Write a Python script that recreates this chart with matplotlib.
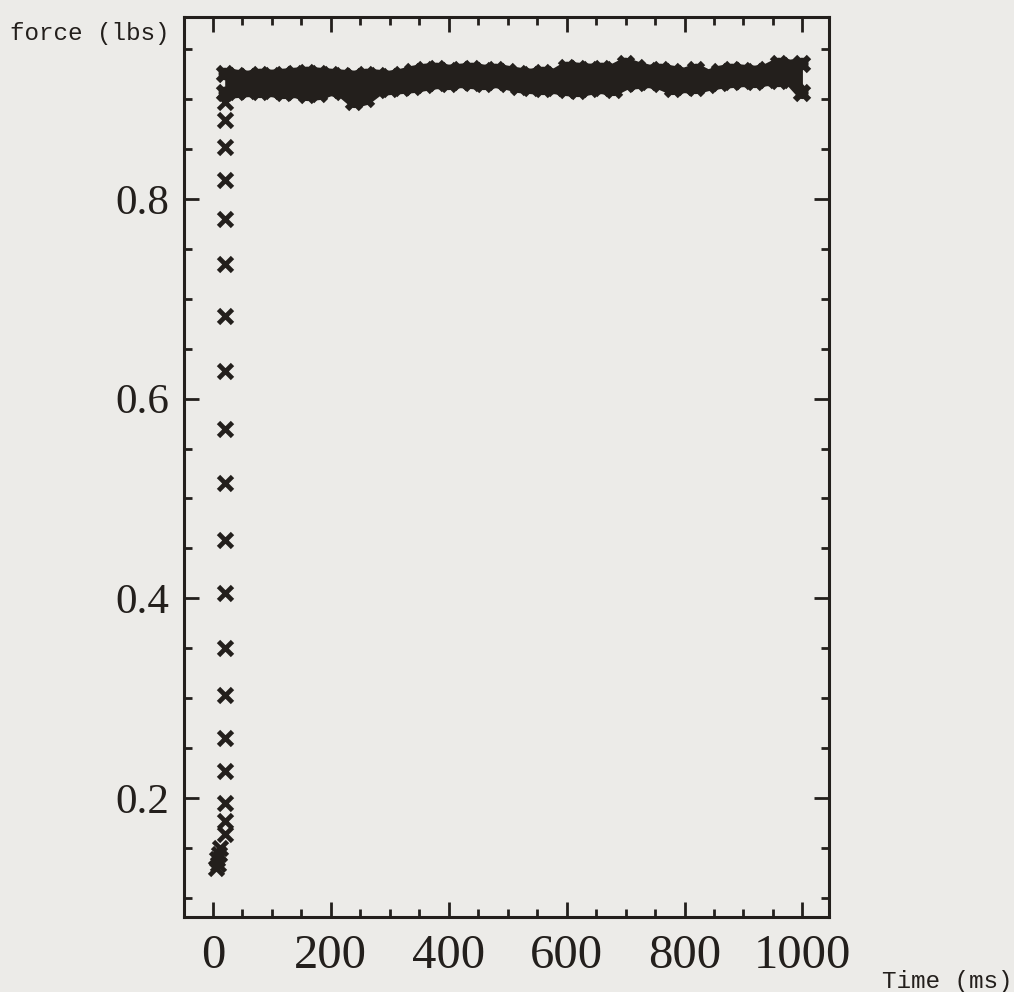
import matplotlib
matplotlib.use("Agg")
import matplotlib.pyplot as plt
from matplotlib.ticker import MultipleLocator, FormatStrFormatter

# initial ramp samples (ms, lbs)
ramp_t = [20] * 19
ramp_f = [0.897, 0.879, 0.852, 0.819, 0.780, 0.735, 0.683, 0.628, 0.570, 0.515,
          0.458, 0.405, 0.350, 0.303, 0.260, 0.227, 0.195, 0.177, 0.164]
start_t = [6, 9, 7, 10, 12]
start_f = [0.130, 0.134, 0.139, 0.144, 0.150]

# steady grasp: upper / lower scatter of the samples
band_t = list(range(20, 1001, 20))
band_hi = [0.925, 0.923, 0.922, 0.924, 0.923, 0.924, 0.925, 0.926, 0.925, 0.924,
           0.923, 0.922, 0.924, 0.923, 0.922, 0.924, 0.927, 0.929, 0.930, 0.928,
           0.929, 0.930, 0.928, 0.929, 0.927, 0.925, 0.924, 0.926, 0.924, 0.931,
           0.930, 0.929, 0.930, 0.929, 0.935, 0.931, 0.928, 0.929, 0.927, 0.925,
           0.929, 0.923, 0.927, 0.929, 0.928, 0.927, 0.929, 0.935, 0.933, 0.935]
band_lo = [0.906, 0.907, 0.908, 0.907, 0.908, 0.906, 0.907, 0.904, 0.905, 0.909,
           0.907, 0.897, 0.900, 0.909, 0.910, 0.911, 0.912, 0.914, 0.916, 0.915,
           0.917, 0.916, 0.915, 0.917, 0.915, 0.912, 0.911, 0.910, 0.911, 0.909,
           0.908, 0.910, 0.911, 0.909, 0.915, 0.916, 0.917, 0.915, 0.910, 0.912,
           0.911, 0.914, 0.916, 0.917, 0.918, 0.917, 0.919, 0.918, 0.919, 0.906]

x_ticks = [0, 200, 400, 600, 800, 1000]
y_ticks = [0.2, 0.4, 0.6, 0.8]

ink = "#231f1c"
paper = "#ecebe8"

fig = plt.figure(figsize=(10.14, 9.92), dpi=100, facecolor=paper)
ax = fig.add_axes([0.1815, 0.0756, 0.636, 0.9073], facecolor=paper)

mk = dict(marker="x", linestyle="none", color=ink, markersize=9.5, markeredgewidth=3.4)
band_mk = dict(marker="x", color=ink, markersize=10.5, markeredgewidth=4.5,
               linewidth=9, solid_joinstyle="round", solid_capstyle="round")
ax.fill_between(band_t, band_lo, band_hi, color=ink, linewidth=0)
ax.plot(band_t, band_hi, **band_mk)
ax.plot(band_t, band_lo, **band_mk)
ax.plot(ramp_t, ramp_f, **mk)
ax.plot(start_t, start_f, **mk)

ax.set_xlim(-49, 1045)
ax.set_ylim(0.081, 0.982)
ax.set_xticks(x_ticks)
ax.set_yticks(y_ticks)
ax.xaxis.set_minor_locator(MultipleLocator(50))
ax.yaxis.set_minor_locator(MultipleLocator(0.05))
ax.yaxis.set_major_formatter(FormatStrFormatter("%.1f"))

for s in ax.spines.values():
    s.set_linewidth(2.2)
    s.set_color(ink)
ax.tick_params(which="both", direction="in", top=True, right=True, color=ink, width=2)
ax.tick_params(which="major", length=11)
ax.tick_params(which="minor", length=5.5)
ax.tick_params(axis="x", which="major", pad=12, labelsize=35, labelcolor=ink)
ax.tick_params(axis="y", which="major", pad=11, labelsize=31, labelcolor=ink)
for lab in ax.get_xticklabels() + ax.get_yticklabels():
    lab.set_family("Liberation Serif")

fig.text(0.0099, 0.9667, "force (lbs)", family="Liberation Mono", fontsize=17.5,
         color=ink, ha="left", va="center")
fig.text(0.999, 0.0101, "Time (ms)", family="Liberation Mono", fontsize=17.5,
         color=ink, ha="right", va="center")

fig.savefig("out.png", dpi=100, facecolor=paper)
